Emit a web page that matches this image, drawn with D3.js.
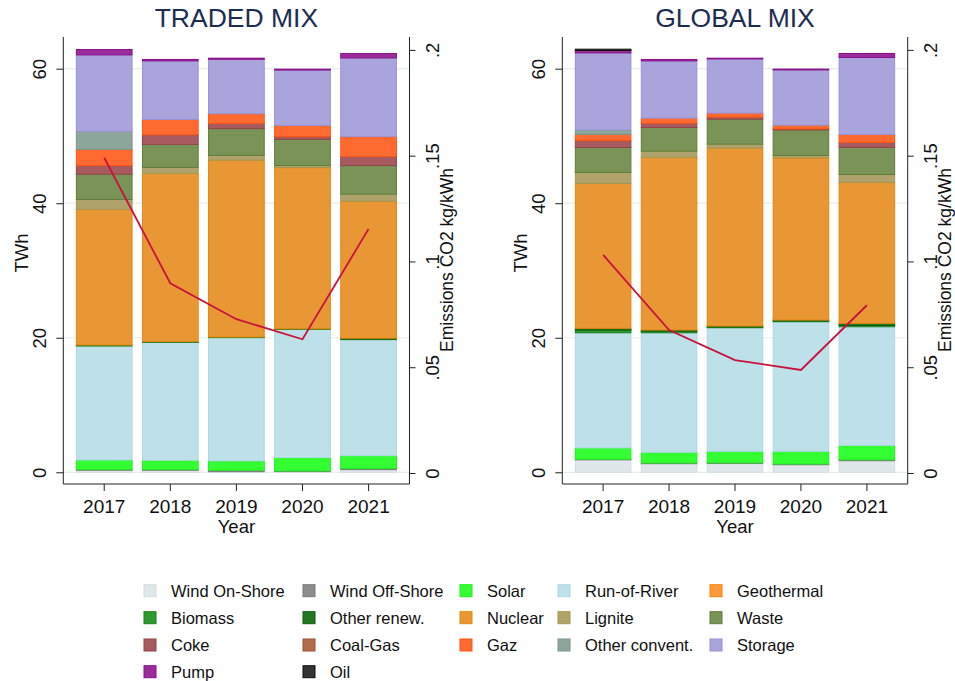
<!DOCTYPE html>
<html>
<head>
<meta charset="utf-8">
<script src="https://cdn.jsdelivr.net/npm/d3@7"></script>
<style>
  html, body { margin: 0; padding: 0; background: #fff; }
  svg { display: block; font-family: "Liberation Sans", Arial, Helvetica, sans-serif; }
</style>
</head>
<body>
<svg id="chart" width="955" height="681"></svg>
<script>
// Years on the x axis
const years = [2017, 2018, 2019, 2020, 2021];

// Generation sources, stacked bottom to top
const sources = ["Wind On-Shore", "Wind Off-Shore", "Solar", "Run-of-River", "Geothermal",
  "Biomass", "Other renew.", "Nuclear", "Lignite", "Waste",
  "Coke", "Coal-Gas", "Gaz", "Other convent.", "Storage",
  "Pump", "Oil"];

// TRADED MIX (TWh per year)
const tradedWindOnShore  = [0.30, 0.30, 0.10, 0.15, 0.40];
const tradedWindOffShore = [0.10, 0.10, 0.20, 0.05, 0.15];
const tradedSolar        = [1.43, 1.40, 1.40, 2.00, 1.92];
const tradedRunOfRiver   = [16.94, 17.51, 18.36, 19.05, 17.29];
const tradedGeothermal   = [0, 0, 0, 0, 0];
const tradedBiomass      = [0.15, 0.12, 0.05, 0.08, 0.05];
const tradedOtherRenew   = [0, 0, 0, 0, 0.12];
const tradedNuclear      = [20.16, 25.00, 26.29, 23.97, 20.37];
const tradedLignite      = [1.48, 0.89, 0.70, 0.30, 1.05];
const tradedWaste        = [3.76, 3.42, 4.00, 3.90, 4.25];
const tradedCoke         = [1.28, 1.43, 0.76, 0.40, 1.35];
const tradedCoalGas      = [0, 0, 0, 0, 0];
const tradedGaz          = [2.40, 2.28, 1.44, 1.66, 2.95];
const tradedOtherConv    = [2.67, 0, 0, 0, 0];
const tradedStorage      = [11.38, 8.71, 8.10, 8.24, 11.70];
const tradedPump         = [0.80, 0.21, 0.16, 0.13, 0.65];
const tradedOil          = [0, 0, 0, 0, 0];
const tradedEmissions    = [0.149, 0.0897, 0.0727, 0.0632, 0.1154];

// GLOBAL MIX (TWh per year)
const globalWindOnShore  = [1.85, 1.28, 1.30, 1.13, 1.72];
const globalWindOffShore = [0.10, 0.10, 0.10, 0.10, 0.13];
const globalSolar        = [1.67, 1.60, 1.72, 1.89, 2.15];
const globalRunOfRiver   = [17.12, 17.76, 18.37, 19.26, 17.64];
const globalGeothermal   = [0, 0, 0, 0, 0];
const globalBiomass      = [0.40, 0.25, 0.15, 0.15, 0.20];
const globalOtherRenew   = [0.26, 0.16, 0.10, 0.10, 0.30];
const globalNuclear      = [21.54, 25.65, 26.45, 24.12, 20.95];
const globalLignite      = [1.64, 0.94, 0.59, 0.35, 1.18];
const globalWaste        = [3.71, 3.52, 3.72, 3.80, 4.03];
const globalCoke         = [1.04, 0.64, 0.30, 0.15, 0.73];
const globalCoalGas      = [0, 0, 0, 0, 0];
const globalGaz          = [0.89, 0.75, 0.60, 0.55, 1.19];
const globalOtherConv    = [0.68, 0, 0, 0, 0];
const globalStorage      = [11.45, 8.51, 8.05, 8.22, 11.44];
const globalPump         = [0.35, 0.21, 0.11, 0.12, 0.60];
const globalOil          = [0.20, 0, 0, 0, 0];
const globalEmissions    = [0.1031, 0.0676, 0.0534, 0.0487, 0.0793];

// Axis tick values
const twhTicks = [0, 20, 40, 60];
const emissionTicks = [0, 0.05, 0.1, 0.15, 0.2];
const emissionTickLabels = ["0", ".05", ".1", ".15", ".2"];

// Fill and edge colours per source
const fillColors = ["#dfe7eb", "#8c8c8c", "#33ff33", "#bee0e9", "#ff9a3c",
  "#2e9a2e", "#237623", "#e99734", "#b0a26b", "#7a9356",
  "#a85b5f", "#b06c4c", "#ff6a30", "#8ca69a", "#a9a4dc",
  "#9b2d9b", "#333333"];
const edgeColors = ["#d2dce1", "#7a7a7a", "#1ef01e", "#add8e6", "#ff8000",
  "#1e7d1e", "#0d5e0d", "#e6860e", "#a6964f", "#5f7d38",
  "#944449", "#9c5535", "#ff5512", "#78978a", "#9a92d6",
  "#8b108b", "#111111"];

const tradedSeries = [tradedWindOnShore, tradedWindOffShore, tradedSolar, tradedRunOfRiver, tradedGeothermal,
  tradedBiomass, tradedOtherRenew, tradedNuclear, tradedLignite, tradedWaste,
  tradedCoke, tradedCoalGas, tradedGaz, tradedOtherConv, tradedStorage, tradedPump, tradedOil];
const globalSeries = [globalWindOnShore, globalWindOffShore, globalSolar, globalRunOfRiver, globalGeothermal,
  globalBiomass, globalOtherRenew, globalNuclear, globalLignite, globalWaste,
  globalCoke, globalCoalGas, globalGaz, globalOtherConv, globalStorage, globalPump, globalOil];

function buildRows(series) {
  return years.map((y, i) => {
    const row = { year: y };
    sources.forEach((s, k) => { row[s] = series[k][i]; });
    return row;
  });
}

const svg = d3.select("#chart");
const FONT = 18.5;

function drawPanel(title, series, emissions, left, right) {
  const top = 37, bottom = 484;
  const g = svg.append("g");

  const x = d3.scaleBand().domain(years).range([left, right])
    .paddingInner(0.142).paddingOuter(0.19);
  const y = d3.scaleLinear().domain([-1.74, 64.71]).range([bottom, top]);
  const y2 = d3.scaleLinear().domain([-0.0052, 0.2061]).range([bottom, top]);

  // gridlines
  g.append("g").selectAll("line").data(twhTicks).join("line")
    .attr("x1", left).attr("x2", right)
    .attr("y1", d => y(d)).attr("y2", d => y(d))
    .attr("stroke", "#e6edf0").attr("stroke-width", 1.2);

  // stacked bars
  const stack = d3.stack().keys(sources)(buildRows(series));
  stack.forEach((layer, k) => {
    g.append("g").selectAll("rect")
      .data(layer.filter(d => d[1] - d[0] > 0))
      .join("rect")
      .attr("x", d => x(d.data.year) + 0.5)
      .attr("width", x.bandwidth() - 1)
      .attr("y", d => y(d[1]))
      .attr("height", d => Math.max(0.6, y(d[0]) - y(d[1])))
      .attr("fill", fillColors[k])
      .attr("stroke", edgeColors[k])
      .attr("stroke-width", 1);
  });

  // emissions line
  const line = d3.line()
    .x((d, i) => x(years[i]) + x.bandwidth() / 2)
    .y(d => y2(d));
  g.append("path").datum(emissions).attr("d", line)
    .attr("fill", "none").attr("stroke", "#c8123e").attr("stroke-width", 1.8);

  // left axis
  const axL = g.append("g").attr("transform", `translate(${left},0)`)
    .call(d3.axisLeft(y).tickValues(twhTicks).tickSize(7).tickFormat(d3.format("d")));
  axL.select(".domain").attr("d", `M0,${top}V${bottom}`).attr("stroke", "#222");
  axL.selectAll(".tick line").attr("stroke", "#222");
  axL.selectAll(".tick text")
    .attr("x", null).attr("dy", null)
    .attr("transform", "translate(-17,0) rotate(-90)")
    .attr("text-anchor", "middle")
    .attr("font-size", FONT).attr("font-family", null).attr("fill", "#111");

  // right axis
  const axR = g.append("g").attr("transform", `translate(${right},0)`)
    .call(d3.axisRight(y2).tickValues(emissionTicks).tickSize(6)
      .tickFormat((d, i) => emissionTickLabels[i]));
  axR.select(".domain").attr("d", `M0,${top}V${bottom}`).attr("stroke", "#222");
  axR.selectAll(".tick line").attr("stroke", "#222");
  axR.selectAll(".tick text")
    .attr("x", null).attr("dy", null)
    .attr("transform", "translate(29.5,0) rotate(-90)")
    .attr("text-anchor", "middle")
    .attr("font-size", FONT).attr("font-family", null).attr("fill", "#111");

  // bottom axis
  const axB = g.append("g").attr("transform", `translate(0,${bottom})`)
    .call(d3.axisBottom(x).tickSize(7).tickSizeOuter(0));
  axB.select(".domain").attr("d", `M${left},0H${right}`).attr("stroke", "#222");
  axB.selectAll(".tick line").attr("stroke", "#222");
  axB.selectAll(".tick text")
    .attr("y", null).attr("dy", null)
    .attr("transform", "translate(0,28.5)")
    .attr("font-size", FONT + 0.5).attr("font-family", null).attr("fill", "#111");

  // axis titles
  g.append("text").attr("transform", `translate(${left - 35},253) rotate(-90)`)
    .attr("text-anchor", "middle").attr("font-size", FONT).attr("fill", "#111").text("TWh");
  g.append("text").attr("transform", `translate(${right + 43.5},260) rotate(-90)`)
    .attr("text-anchor", "middle").attr("font-size", 17.5).attr("fill", "#111").text("Emissions CO2 kg/kWh");
  g.append("text").attr("x", (left + right) / 2).attr("y", 533)
    .attr("text-anchor", "middle").attr("font-size", FONT).attr("fill", "#111").text("Year");

  // panel title
  g.append("text").attr("x", (left + right) / 2).attr("y", 27)
    .attr("text-anchor", "middle").attr("font-size", 26.5).attr("fill", "#1c2d52").text(title);
}

drawPanel("TRADED MIX", tradedSeries, tradedEmissions, 63.3, 409.5);
drawPanel("GLOBAL MIX", globalSeries, globalEmissions, 562.3, 907.7);

// legend: 5 columns, row-major
const legendColX = [171, 330, 487, 585, 737];
const legendRowY = [590.7, 617.7, 645, 671.7];
const legend = svg.append("g");
sources.forEach((s, k) => {
  const col = k % 5, row = Math.floor(k / 5);
  const lx = legendColX[col], ly = legendRowY[row];
  legend.append("rect").attr("x", lx - 27).attr("y", ly - 6).attr("width", 12).attr("height", 12)
    .attr("fill", fillColors[k]).attr("stroke", edgeColors[k]).attr("stroke-width", 1);
  legend.append("text").attr("x", lx).attr("y", ly + 6)
    .attr("font-size", 16.5).attr("fill", "#111").text(s);
});
</script>
</body>
</html>
